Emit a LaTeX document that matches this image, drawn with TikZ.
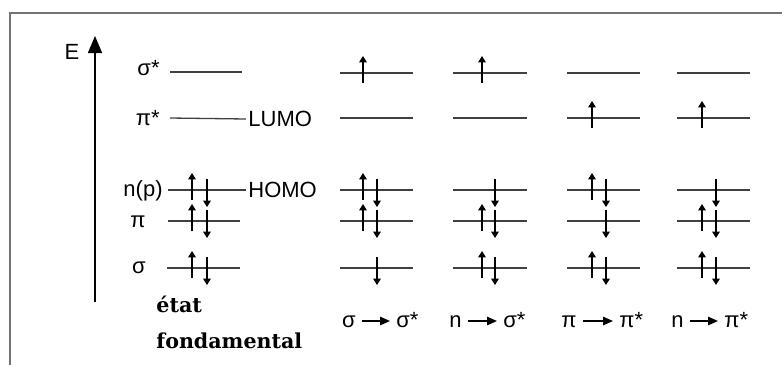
\documentclass[tikz,border=0pt]{standalone}
\usepackage{fontspec}
\setmainfont{Liberation Sans}
\newfontfamily\seriffont{DejaVu Serif}[BoldFont={DejaVu Serif Bold}]
\usetikzlibrary{arrows.meta,positioning}

\begin{document}
\begin{tikzpicture}[
        x=0.5pt, y=-0.5pt,
        >=Stealth,
        lbl/.style={inner sep=1pt, font=\fontsize{11}{13}\selectfont},
        tlbl/.style={lbl, inner sep=3pt, text height=1.5ex, text depth=0.25ex},
        niveau/.style={line width=0.65pt, draw=black!75},
        spin/.style={-{Triangle[length=3.2pt,width=3.8pt]}, line width=0.65pt},
        trans/.style={-{Triangle[length=5pt,width=4.2pt]}, line width=0.8pt},
        axe/.style={-{Triangle[length=8.5pt,width=7pt]}, line width=0.75pt},
        cadre/.style={draw=black!55, line width=1pt}
    ]
        \useasboundingbox (0,0) rectangle (782,365);
        \draw[cadre] (10,365) -- (10,13) -- (782,13);

        % axe des energies
        \coordinate (e0) at (95,302);
        \coordinate (e1) at (95,36);
        \draw[axe] (e0) -- (e1);
        \node[lbl] (E) at (72,52) {E};

        % etat fondamental
        \node[lbl, anchor=east] (ls2) at (162,68) {σ*};
        \node[lbl, anchor=east] (lp2) at (162,118) {π*};
        \node[lbl, anchor=east] (ln) at (165,191) {n(p)};
        \node[lbl, anchor=east] (lp) at (148,222) {π};
        \node[lbl, anchor=east] (ls) at (148,268) {σ};
        \node[lbl, anchor=west] (lumo) at (246,119) {LUMO};
        \node[lbl, anchor=west] (homo) at (246,190) {HOMO};
        \draw[niveau] (170,72) -- (242,72);
        \draw[niveau] (170,118) -- (lumo.west);
        \draw[niveau] (168,190) -- (homo.west);
        \draw[niveau] (168,221) -- (240,221);
        \draw[niveau] (167,268) -- (240,268);
        \node[anchor=west, align=left, inner sep=0pt,
              font=\seriffont\bfseries\fontsize{10.3}{18}\selectfont] (fond) at (156,322)
            {état\\fondamental};

        % etats excites
        \foreach \xa/\xb in {340/413,453/527,567/640,677/750}
            \foreach \y in {73,118,190,221,268}
                \draw[niveau] (\xa,\y) -- (\xb,\y);

        \foreach \x/\y in {192/190,192/221,192/268,363/73,363/190,363/221,
                           482/73,482/221,482/268,592/118,592/190,592/268,
                           702/118,702/221,702/268}
            \draw[spin] (\x,\y+10) -- (\x,\y-17);
        \foreach \x/\y in {207/190,207/221,207/268,377/190,377/221,377/268,
                           495/190,495/221,495/268,606/190,606/221,606/268,
                           716/190,716/221,716/268}
            \draw[spin] (\x,\y-11) -- (\x,\y+17);

        % transitions
        \node[tlbl, anchor=east] (t1a) at (362,321) {σ};
        \node[tlbl, anchor=west] (t1b) at (390,321) {σ*};
        \node[tlbl, anchor=east] (t2a) at (468,321) {n};
        \node[tlbl, anchor=west] (t2b) at (497,321) {σ*};
        \node[tlbl, anchor=east] (t3a) at (583,321) {π};
        \node[tlbl, anchor=west] (t3b) at (613,321) {π*};
        \node[tlbl, anchor=east] (t4a) at (690,321) {n};
        \node[tlbl, anchor=west] (t4b) at (718,321) {π*};
        \draw[trans] (t1a) -- (t1b);
        \draw[trans] (t2a) -- (t2b);
        \draw[trans] (t3a) -- (t3b);
        \draw[trans] (t4a) -- (t4b);
    \end{tikzpicture}
\end{document}
